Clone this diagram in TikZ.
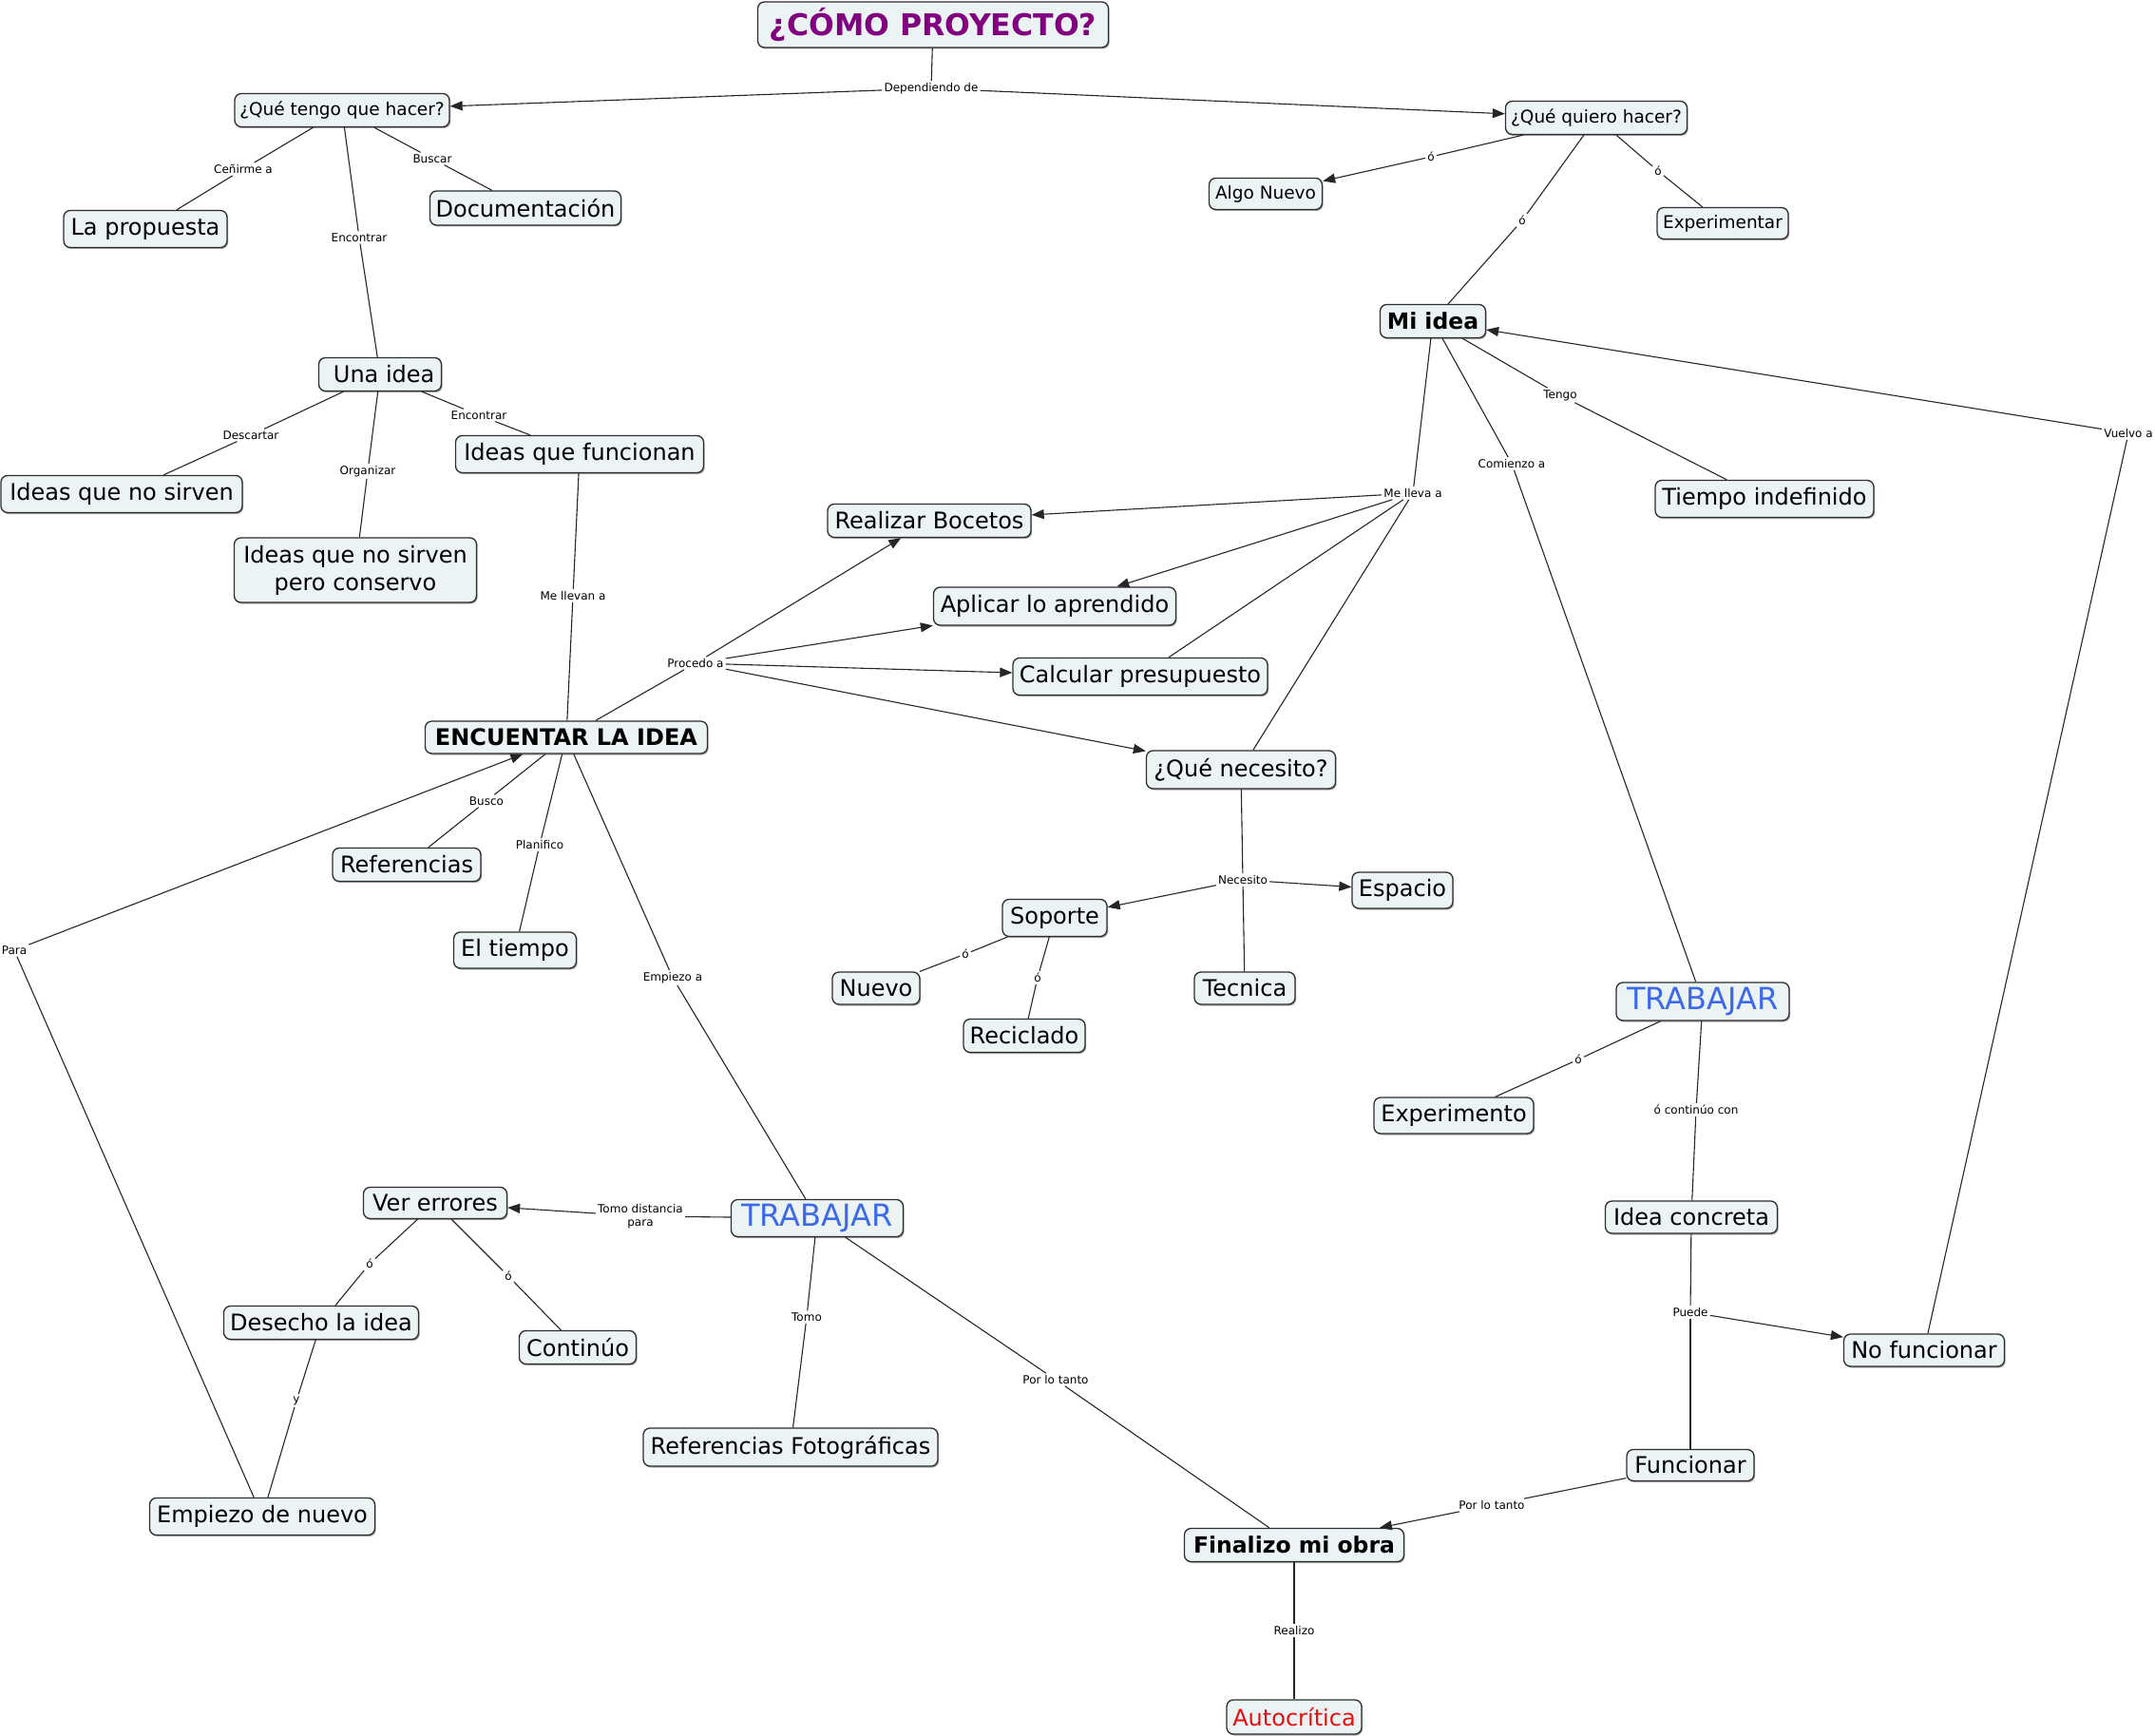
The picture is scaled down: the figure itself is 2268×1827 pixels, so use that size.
\documentclass[tikz,border=0pt]{standalone}
\usepackage{fontspec}
\setmainfont{DejaVu Sans}
\usetikzlibrary{arrows.meta,shadows}
\definecolor{boxfill}{RGB}{236,243,245}
\definecolor{boxline}{RGB}{45,45,45}
\definecolor{titlecol}{RGB}{128,0,128}
\definecolor{bluecol}{RGB}{60,105,230}
\definecolor{redcol}{RGB}{225,15,15}
\begin{document}
\begin{tikzpicture}[x=1pt,y=-1pt,
  concept/.style={draw=boxline, line width=1.3pt, fill=boxfill, rounded corners=7pt,
    inner sep=2pt, general shadow={fill=black!35, shadow xshift=1.2pt, shadow yshift=-1.5pt},
    font=\fontsize{24}{29}\selectfont},
  small/.style={font=\fontsize{18.5}{22}\selectfont},
  boldc/.style={font=\bfseries\fontsize{23.5}{28}\selectfont},
  bluec/.style={font=\fontsize{32}{38}\selectfont, text=bluecol},
  redc/.style={text=redcol},
  titlec/.style={font=\bfseries\fontsize{31.5}{37}\selectfont, text=titlecol},
  sz/.style 2 args={minimum width=#1pt, minimum height=#2pt},
  lbl/.style={font=\fontsize{12}{14.5}\selectfont, inner sep=2pt, fill=white},
  edge/.style={draw=black!85, line width=1.1pt},
  arr/.style={edge, -{Triangle[length=13pt,width=10pt]}}]
\fill[white] (0,0) rectangle (2268,1827);
\useasboundingbox (0,0) rectangle (2268,1827);

% concepts
\node[concept, titlec, sz={369}{48}] (title) at (982,26) {¿CÓMO PROYECTO?};
\node[concept, small, sz={226}{35}] (qtengo) at (360,116) {¿Qué tengo que hacer?};
\node[concept, small, sz={191}{35}] (qquiero) at (1680,124) {¿Qué quiero hacer?};
\node[concept, small, sz={119}{33}] (algo) at (1332,204) {Algo Nuevo};
\node[concept, small, sz={138}{33}] (exptar) at (1813,235) {Experimentar};
\node[concept, sz={172}{39}] (prop) at (153,241) {La propuesta};
\node[concept, sz={201}{36}] (doc) at (553,219) {Documentación};
\node[concept, sz={129}{35}] (unaidea) at (400,394) {\hspace{0.35em}Una idea};
\node[concept, sz={254}{39}] (nosirven) at (128,520) {Ideas que no sirven};
\node[concept, sz={255}{68}, align=center] (conservo) at (374,600) {Ideas que no sirven\\pero conservo};
\node[concept, sz={261}{39}] (funcionan) at (610,478) {Ideas que funcionan};
\node[concept, boldc, sz={111}{35}] (miidea) at (1508,338) {Mi idea};
\node[concept, sz={230}{39}] (tiempo) at (1857,525) {Tiempo indefinido};
\node[concept, sz={214}{35}] (bocetos) at (978,548) {Realizar Bocetos};
\node[concept, sz={255}{40}] (aplicar) at (1110,638) {Aplicar lo aprendido};
\node[concept, sz={268}{39}] (calcular) at (1200,712) {Calcular presupuesto};
\node[concept, sz={199}{40}] (necesito) at (1306,810) {¿Qué necesito?};
\node[concept, boldc, font=\bfseries\fontsize{24}{29}\selectfont, sz={297}{34}] (encuentra) at (596,776) {ENCUENTAR LA IDEA};
\node[concept, sz={156}{35}] (refs) at (428,910) {Referencias};
\node[concept, sz={129}{38}] (eltiempo) at (542,1000) {El tiempo};
\node[concept, sz={110}{39}] (soporte) at (1110,966) {Soporte};
\node[concept, sz={106}{38}] (espacio) at (1476,937) {Espacio};
\node[concept, sz={92}{34}] (nuevo) at (922,1040) {Nuevo};
\node[concept, sz={128}{35}] (reciclado) at (1078,1090) {Reciclado};
\node[concept, sz={106}{34}] (tecnica) at (1310,1040) {Tecnica};
\node[concept, bluec, sz={182}{40}] (trabR) at (1792,1054) {TRABAJAR};
\node[concept, sz={168}{38}] (experimento) at (1530,1174) {Experimento};
\node[concept, sz={181}{34}] (concreta) at (1780,1281) {Idea concreta};
\node[concept, sz={169}{34}] (nofunc) at (2025,1421) {No funcionar};
\node[concept, sz={134}{33}] (funcionar) at (1779,1542) {Funcionar};
\node[concept, boldc, sz={231}{35}] (finalizo) at (1362,1626) {Finalizo mi obra};
\node[concept, redc, sz={142}{36}] (autocritica) at (1362,1807) {Autocrítica};
\node[concept, sz={151}{33}] (ver) at (458,1266) {Ver errores};
\node[concept, bluec, sz={181}{39}] (trabL) at (860,1282) {TRABAJAR};
\node[concept, sz={205}{35}] (desecho) at (338,1392) {Desecho la idea};
\node[concept, sz={123}{35}] (continuo) at (608,1418) {Continúo};
\node[concept, sz={310}{40}] (reffoto) at (832,1523) {Referencias Fotográficas};
\node[concept, sz={237}{39}] (empiezo) at (276,1596) {Empiezo de nuevo};

% linking phrases
\node[lbl] (l_dep) at (980,93) {Dependiendo de};
\node[lbl] (l_cen) at (256,178) {Ceñirme a};
\node[lbl] (l_bus) at (455,167) {Buscar};
\node[lbl] (l_enc1) at (378,250) {Encontrar};
\node[lbl] (l_o1) at (1506,165) {ó};
\node[lbl] (l_o2) at (1602,232) {ó};
\node[lbl] (l_o3) at (1745,180) {ó};
\node[lbl] (l_desc) at (264,458) {Descartar};
\node[lbl] (l_org) at (387,496) {Organizar};
\node[lbl] (l_enc2) at (504,437) {Encontrar};
\node[lbl] (l_llevan) at (603,627) {Me llevan a};
\node[lbl] (l_proc) at (732,698) {Procedo a};
\node[lbl] (l_busco) at (512,843) {Busco};
\node[lbl] (l_plan) at (568,889) {Planifico};
\node[lbl] (l_emp) at (708,1029) {Empiezo a};
\node[lbl] (l_lleva) at (1487,519) {Me lleva a};
\node[lbl] (l_tengo) at (1642,416) {Tengo};
\node[lbl] (l_com) at (1591,488) {Comienzo a};
\node[lbl] (l_vuel) at (2240,456) {Vuelvo a};
\node[lbl] (l_nec) at (1308,926) {Necesito};
\node[lbl] (l_o4) at (1016,1004) {ó};
\node[lbl] (l_o5) at (1092,1029) {ó};
\node[lbl] (l_o6) at (1661,1115) {ó};
\node[lbl] (l_cont) at (1785,1168) {ó continúo con};
\node[lbl] (l_puede) at (1779,1381) {Puede};
\node[lbl] (l_plt1) at (1570,1584) {Por lo tanto};
\node[lbl] (l_plt2) at (1111,1452) {Por lo tanto};
\node[lbl] (l_real) at (1362,1716) {Realizo};
\node[lbl, align=center] (l_tomod) at (674,1280) {Tomo distancia\\para};
\node[lbl] (l_tomo) at (849,1386) {Tomo};
\node[lbl] (l_o7) at (389,1330) {ó};
\node[lbl] (l_o8) at (535,1343) {ó};
\node[lbl] (l_y) at (312,1474) {y};
\node[lbl] (l_para) at (15,1000) {Para};

% connectors
\draw[edge] (title) -- (l_dep);
\draw[arr] (l_dep) -- (qtengo);
\draw[arr] (l_dep) -- (qquiero);
\draw[edge] (qtengo) -- (l_cen); \draw[edge] (l_cen) -- (prop);
\draw[edge] (qtengo) -- (l_bus); \draw[edge] (l_bus) -- (doc);
\draw[edge] (qtengo) -- (l_enc1); \draw[edge] (l_enc1) -- (unaidea);
\draw[edge] (qquiero) -- (l_o1); \draw[arr] (l_o1) -- (algo);
\draw[edge] (qquiero) -- (l_o2); \draw[edge] (l_o2) -- (miidea);
\draw[edge] (qquiero) -- (l_o3); \draw[edge] (l_o3) -- (exptar);
\draw[edge] (unaidea) -- (l_desc); \draw[edge] (l_desc) -- (nosirven);
\draw[edge] (unaidea) -- (l_org); \draw[edge] (l_org) -- (conservo);
\draw[edge] (unaidea) -- (l_enc2); \draw[edge] (l_enc2) -- (funcionan);
\draw[edge] (funcionan) -- (l_llevan); \draw[edge] (l_llevan) -- (encuentra);
\draw[edge] (encuentra) -- (l_proc);
\draw[arr] (l_proc) -- (bocetos);
\draw[arr] (l_proc) -- (aplicar);
\draw[arr] (l_proc) -- (calcular);
\draw[arr] (l_proc) -- (necesito);
\draw[edge] (encuentra) -- (l_busco); \draw[edge] (l_busco) -- (refs);
\draw[edge] (encuentra) -- (l_plan); \draw[edge] (l_plan) -- (eltiempo);
\draw[edge] (encuentra) -- (l_emp); \draw[edge] (l_emp) -- (trabL);
\draw[edge] (miidea) -- (l_lleva);
\draw[arr] (l_lleva) -- (bocetos);
\draw[arr] (l_lleva) -- (aplicar);
\draw[edge] (l_lleva) -- (calcular);
\draw[edge] (l_lleva) -- (necesito);
\draw[edge] (miidea) -- (l_tengo); \draw[edge] (l_tengo) -- (tiempo);
\draw[edge] (miidea) -- (l_com); \draw[edge] (l_com) -- (trabR);
\draw[edge] (nofunc) -- (l_vuel); \draw[arr] (l_vuel) -- (miidea);
\draw[edge] (necesito) -- (l_nec);
\draw[arr] (l_nec) -- (soporte);
\draw[arr] (l_nec) -- (espacio);
\draw[edge] (l_nec) -- (tecnica);
\draw[edge] (soporte) -- (l_o4); \draw[edge] (l_o4) -- (nuevo);
\draw[edge] (soporte) -- (l_o5); \draw[edge] (l_o5) -- (reciclado);
\draw[edge] (trabR) -- (l_o6); \draw[edge] (l_o6) -- (experimento);
\draw[edge] (trabR) -- (l_cont); \draw[edge] (l_cont) -- (concreta);
\draw[edge] (concreta) -- (l_puede);
\draw[arr] (l_puede) -- (nofunc);
\draw[edge] (l_puede) -- (funcionar);
\draw[edge] (funcionar) -- (l_plt1); \draw[arr] (l_plt1) -- (finalizo);
\draw[edge] (trabL) -- (l_plt2); \draw[edge] (l_plt2) -- (finalizo);
\draw[edge] (finalizo) -- (l_real); \draw[edge] (l_real) -- (autocritica);
\draw[edge] (trabL) -- (l_tomod); \draw[arr] (l_tomod) -- (ver);
\draw[edge] (trabL) -- (l_tomo); \draw[edge] (l_tomo) -- (reffoto);
\draw[edge] (ver) -- (l_o7); \draw[edge] (l_o7) -- (desecho);
\draw[edge] (ver) -- (l_o8); \draw[edge] (l_o8) -- (continuo);
\draw[edge] (desecho) -- (l_y); \draw[edge] (l_y) -- (empiezo);
\draw[edge] (empiezo) -- (l_para); \draw[arr] (l_para) -- (encuentra);
\end{tikzpicture}
\end{document}
